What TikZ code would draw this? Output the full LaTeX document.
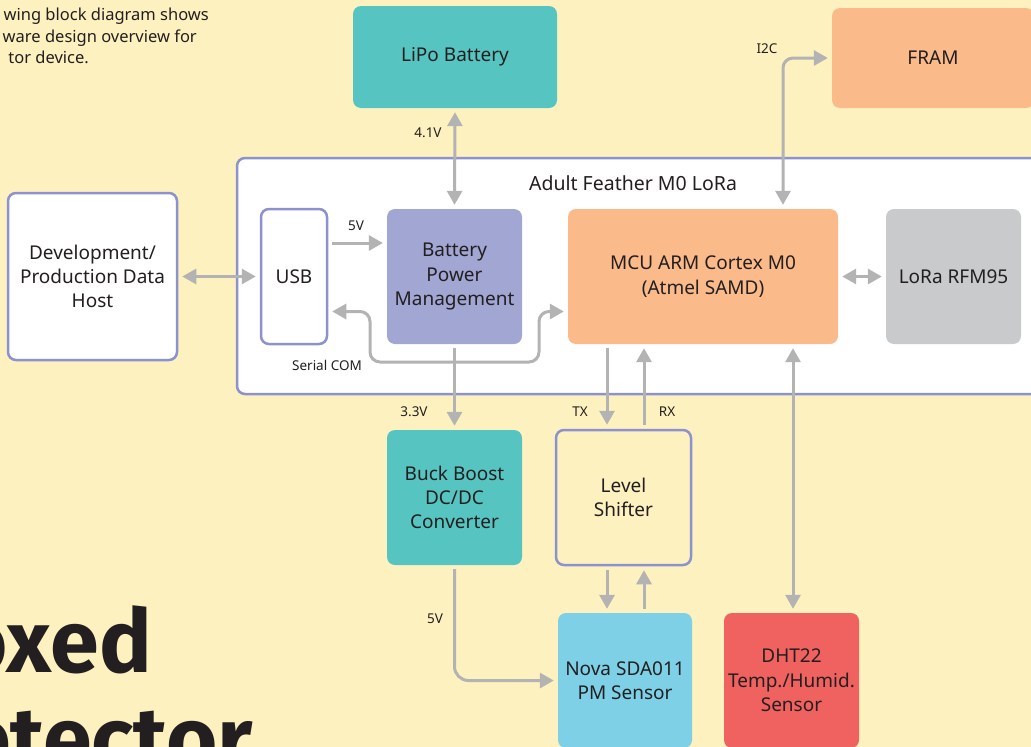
\documentclass[tikz,border=0pt]{standalone}
\usepackage{fontspec}
\setmainfont{Noto Sans}
\newfontfamily\titlefont{Fira Sans}
\usetikzlibrary{arrows.meta}
\definecolor{bg}{HTML}{FDF1BF}
\definecolor{ink}{HTML}{231F20}
\definecolor{teal}{HTML}{56C5C1}
\definecolor{peach}{HTML}{FBBA8A}
\definecolor{lav}{HTML}{8C91CF}
\definecolor{lavfill}{HTML}{A1A6D3}
\definecolor{greybox}{HTML}{C8CACC}
\definecolor{skyblue}{HTML}{7DD0E6}
\definecolor{redbox}{HTML}{F0625F}
\definecolor{arrgray}{HTML}{B3B3B3}
\tikzset{
  blk/.style={rounded corners=8pt, inner sep=0pt, align=center, text=ink,
    font=\fontsize{19}{24.3}\selectfont},
  outl/.style={blk, draw=lav, line width=2.5pt},
  lbl/.style={text=ink, font=\fontsize{13.5}{16}\selectfont, inner sep=0pt},
  intro/.style={anchor=base east, text=ink, inner sep=0pt, font=\fontsize{16.5}{20}\selectfont},
  bigt/.style={anchor=base east, text=ink, inner sep=0pt, font=\titlefont\fontsize{88}{90}\bfseries\selectfont},
  arr/.style={draw=arrgray, line width=3pt, -{Triangle[length=14pt,width=15pt]},
    shorten >=4pt, shorten <=4pt},
  darr/.style={arr, {Triangle[length=14pt,width=15pt]}-{Triangle[length=14pt,width=15pt]}},
}
\begin{document}
\begin{tikzpicture}[x=1pt,y=-1pt]
\useasboundingbox (0,0) rectangle (1031,747);
\clip (0,0) rectangle (1031,747);
\fill[bg] (0,0) rectangle (1031,747);

% intro text
\node[intro] (t1) at (209,20) {wing block diagram shows};
\node[intro] (t2) at (197,42) {ware design overview for};
\node[intro] (t3) at (89,63) {tor device.};

% big title
\node[bigt] (b1) at (152,672) {oxed};
\node[bigt] (b2) at (253,769) {etector};

% outer board
\draw[draw=lav, fill=white, line width=2.5pt, rounded corners=8pt] (237,158) rectangle (1070,394);
\node[text=ink, inner sep=0pt, font=\fontsize{19.5}{22}\selectfont] (board) at (633,183) {Adult Feather M0 LoRa};

% blocks
\node[blk, fill=teal, minimum width=204, minimum height=102] (lipo) at (455,57) {LiPo Battery};
\node[blk, fill=peach, minimum width=202, minimum height=100] (fram) at (933,58) {FRAM};
\node[outl, fill=white, minimum width=169, minimum height=167] (host) at (92.5,276.5) {Development/\\Production Data\\Host};
\node[outl, fill=white, minimum width=66, minimum height=135] (usb) at (294,276.5) {USB};
\node[blk, fill=lavfill, minimum width=135, minimum height=135] (bpm) at (454.5,276.5) {Battery\\Power\\Management};
\node[blk, fill=peach, minimum width=270, minimum height=135] (mcu) at (703,276.5) {MCU ARM Cortex M0\\(Atmel SAMD)};
\node[blk, fill=greybox, minimum width=135, minimum height=135] (lora) at (953.5,276.5) {LoRa RFM95};
\node[blk, fill=teal, minimum width=135, minimum height=135] (buck) at (454.5,497.5) {Buck Boost\\DC/DC\\Converter};
\node[outl, fill=bg, minimum width=135, minimum height=135] (lvl) at (623.5,497.5) {Level\\Shifter};
\node[blk, fill=skyblue, minimum width=134, minimum height=135] (nova) at (625,680.5) {Nova SDA011\\PM Sensor};
\node[blk, fill=redbox, minimum width=135, minimum height=135] (dht) at (791.5,680.5) {DHT22\\Temp./Humid.\\Sensor};

% connectors
\draw[darr] (lipo.south) -- (bpm.north);
\draw[darr, rounded corners=10pt] ([xshift=80]mcu.north) |- (fram.west);
\draw[darr] (host.east) -- (usb.west);
\draw[arr] ([yshift=33.5]usb.east) -- ([yshift=33.5]bpm.west);
\draw[darr, rounded corners=10pt] ([yshift=-35]usb.east) -| (370,362) -| (539,311.5) -- ([yshift=-35]mcu.west);
\draw[arr] (bpm.south) -- (buck.north);
\draw[arr] ([xshift=-96]mcu.south) -- ([xshift=-16.5]lvl.north);
\draw[arr] ([xshift=20.5]lvl.north) -- ([xshift=-59]mcu.south);
\draw[darr] ([xshift=90]mcu.south) -- ([xshift=1.5]dht.north);
\draw[darr] (mcu.east) -- (lora.west);
\draw[arr] ([xshift=-16.5]lvl.south) -- ([xshift=-18]nova.north);
\draw[arr] ([xshift=19]nova.north) -- ([xshift=20.5]lvl.south);
\draw[arr, rounded corners=14pt] (buck.south) |- (nova.west);

% labels
\node[lbl] (l41) at (428,133) {4.1V};
\node[lbl] (li2c) at (767,49) {I2C};
\node[lbl] (l5a) at (356,226) {5V};
\node[lbl] (lser) at (327,365) {Serial COM};
\node[lbl] (l33) at (414,412) {3.3V};
\node[lbl] (ltx) at (580,412) {TX};
\node[lbl] (lrx) at (667,412) {RX};
\node[lbl] (l5b) at (435,619) {5V};
\end{tikzpicture}
\end{document}
